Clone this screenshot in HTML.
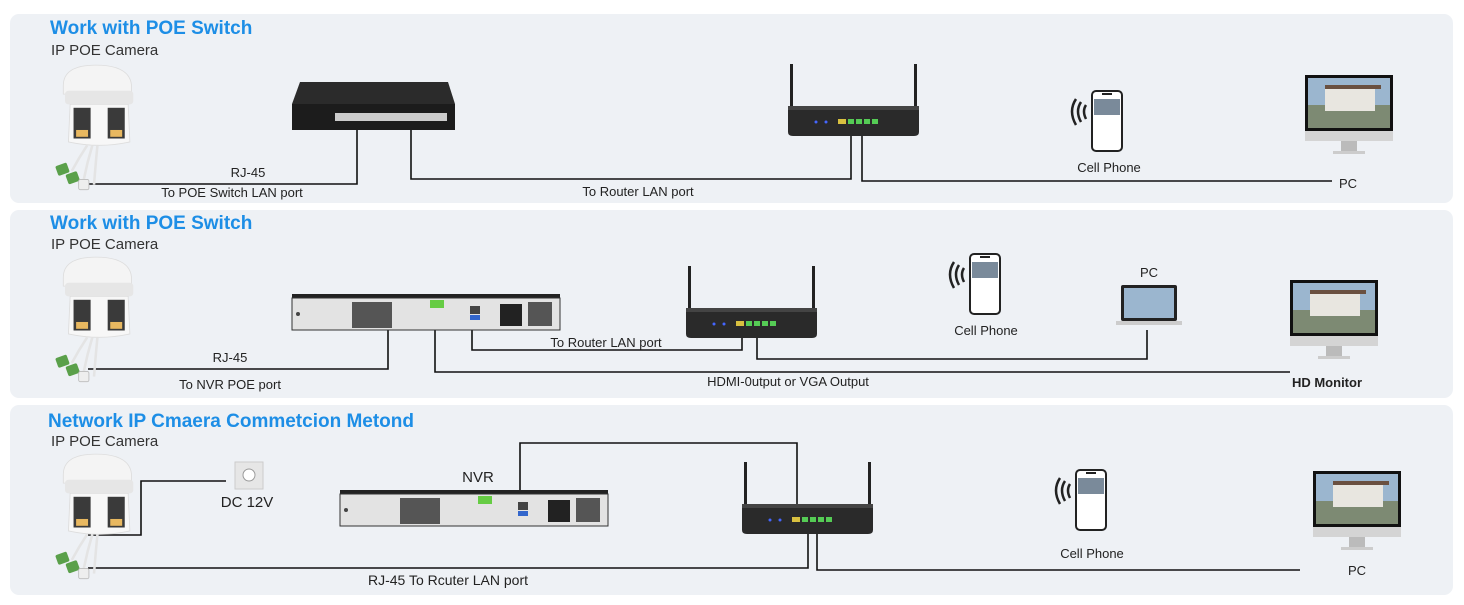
<!DOCTYPE html>
<html><head><meta charset="utf-8"><style>
html,body{margin:0;padding:0;background:#fff;}
body{width:1464px;height:600px;overflow:hidden;font-family:"Liberation Sans",sans-serif;}
svg text{font-family:"Liberation Sans",sans-serif;}
</style></head><body>
<svg width="1464" height="600" viewBox="0 0 1464 600" xmlns="http://www.w3.org/2000/svg">
<defs>
<symbol id="cam" viewBox="0 0 110 150" width="100" height="128" overflow="visible">
  <path d="M12 30 Q12 6 50 6 Q90 6 92 30 L92 40 L12 40Z" fill="#f4f4f4" stroke="#ddd"/>
  <rect x="14" y="36" width="80" height="16" rx="4" fill="#e6e6e6"/>
  <path d="M20 52 L88 52 L90 96 Q55 104 18 96Z" fill="#f7f7f7" stroke="#ddd"/>
  <rect x="24" y="56" width="20" height="36" fill="#3a3a3a"/>
  <rect x="64" y="56" width="20" height="36" fill="#3a3a3a"/>
  <rect x="27" y="82" width="14" height="8" fill="#e8b860"/>
  <rect x="67" y="82" width="14" height="8" fill="#e8b860"/>
  <path d="M40 100 Q30 115 22 130 M46 100 Q40 120 36 140 M52 100 Q50 120 48 146" stroke="#e4e4e4" stroke-width="3" fill="none"/>
  <rect x="4" y="122" width="14" height="12" rx="2" fill="#5aa04a" transform="rotate(-20 11 128)"/>
  <rect x="16" y="132" width="14" height="12" rx="2" fill="#5aa04a" transform="rotate(-20 23 138)"/>
  <rect x="30" y="140" width="12" height="12" rx="2" fill="#eee" stroke="#bbb"/>
</symbol>
<symbol id="router" viewBox="0 0 135 75" width="135" height="75" overflow="visible">
  <rect x="2" y="0" width="3" height="46" fill="#222"/>
  <rect x="126" y="0" width="3" height="46" fill="#222"/>
  <path d="M0 42 L131 42 L131 68 Q131 72 126 72 L5 72 Q0 72 0 68Z" fill="#2a2a2a"/>
  <rect x="0" y="42" width="131" height="4" fill="#444"/>
  <circle cx="28" cy="58" r="1.5" fill="#46f"/><circle cx="38" cy="58" r="1.5" fill="#46f"/>
  <rect x="50" y="55" width="8" height="5" fill="#d8c040"/>
  <rect x="60" y="55" width="6" height="5" fill="#5c5"/><rect x="68" y="55" width="6" height="5" fill="#5c5"/><rect x="76" y="55" width="6" height="5" fill="#5c5"/><rect x="84" y="55" width="6" height="5" fill="#5c5"/>
</symbol>
<symbol id="phone" viewBox="0 0 60 64" width="60" height="64" overflow="visible">
  <path d="M10 10 Q2 22 10 36 M15 13 Q9 22 15 33 M20 16 Q16 22 20 30" stroke="#222" stroke-width="2.5" fill="none"/>
  <rect x="26" y="2" width="30" height="60" rx="4" fill="#fff" stroke="#222" stroke-width="2"/>
  <rect x="28" y="10" width="26" height="16" fill="#7a8a9a"/>
  <rect x="36" y="4" width="10" height="2" fill="#222"/>
</symbol>
<symbol id="mon" viewBox="0 0 88 84" width="88" height="84" overflow="visible">
  <rect x="0" y="0" width="88" height="56" fill="#111"/>
  <rect x="3" y="3" width="82" height="50" fill="#9bb6cf"/>
  <rect x="3" y="30" width="82" height="23" fill="#7d8a73"/>
  <rect x="20" y="12" width="50" height="24" fill="#e8e6e0"/>
  <rect x="20" y="10" width="56" height="4" fill="#6a5040"/>
  <rect x="0" y="56" width="88" height="10" fill="#d4d4d4"/>
  <rect x="36" y="66" width="16" height="10" fill="#bbb"/>
  <rect x="28" y="76" width="32" height="3" fill="#ccc"/>
</symbol>
<symbol id="nvr" viewBox="0 0 268 36" width="268" height="36" overflow="visible">
  <rect x="0" y="0" width="268" height="4" fill="#222"/>
  <rect x="0" y="4" width="268" height="32" fill="#e3e3e3" stroke="#333"/>
  <rect x="60" y="8" width="40" height="26" fill="#555"/>
  <rect x="138" y="6" width="14" height="8" fill="#6c4"/>
  <rect x="178" y="12" width="10" height="8" fill="#444"/><rect x="178" y="21" width="10" height="5" fill="#36c"/>
  <rect x="208" y="10" width="22" height="22" fill="#222"/>
  <rect x="236" y="8" width="24" height="24" fill="#555"/>
  <circle cx="6" cy="20" r="2" fill="#444"/>
</symbol>
</defs>

<rect x="10" y="14" width="1443" height="189" rx="9" fill="#eef1f5"/>
<rect x="10" y="210" width="1443" height="188" rx="9" fill="#eef1f5"/>
<rect x="10" y="405" width="1443" height="190" rx="9" fill="#eef1f5"/>

<g font-weight="bold" font-size="19" fill="#1d8ee6">
<text x="50" y="34">Work with POE Switch</text>
<text x="50" y="229">Work with POE Switch</text>
<text x="48" y="427">Network IP Cmaera Commetcion Metond</text>
</g>
<g font-size="15" fill="#333">
<text x="51" y="55">IP POE Camera</text>
<text x="51" y="249">IP POE Camera</text>
<text x="51" y="446">IP POE Camera</text>
</g>

<g stroke="#111" stroke-width="1.6" fill="none">
<polyline points="88,184 357,184 357,130"/>
<polyline points="411,130 411,179 851,179 851,135"/>
<polyline points="862,135 862,181 1332,181"/>
<polyline points="88,369 388,369 388,329"/>
<polyline points="435,329 435,372 1290,372"/>
<polyline points="472,320 472,350 742,350 742,322"/>
<polyline points="757,325 757,359 1147,359 1147,330"/>
<polyline points="88,535 141,535 141,481 226,481"/>
<polyline points="520,492 520,443 797,443 797,515"/>
<polyline points="88,568 808,568 808,522"/>
<polyline points="817,522 817,570 1300,570"/>
</g>

<use href="#cam" x="50" y="60"/>
<use href="#cam" x="50" y="252"/>
<use href="#cam" x="50" y="449"/>

<path d="M300 82 L448 82 L455 104 L292 104Z" fill="#2b2b2b"/>
<rect x="292" y="104" width="163" height="26" fill="#1c1c1c"/>
<rect x="335" y="113" width="112" height="8" fill="#ccc"/>

<use href="#router" x="788" y="64"/>
<use href="#router" x="686" y="266"/>
<use href="#router" x="742" y="462"/>

<use href="#phone" x="1066" y="89"/>
<use href="#phone" x="944" y="252"/>
<use href="#phone" x="1050" y="468"/>

<use href="#mon" x="1305" y="75"/>
<use href="#mon" x="1290" y="280"/>
<use href="#mon" x="1313" y="471"/>

<use href="#nvr" x="292" y="294"/>
<use href="#nvr" x="340" y="490"/>

<rect x="1121" y="285" width="56" height="36" rx="2" fill="#222"/>
<rect x="1124" y="288" width="50" height="30" fill="#9bb6cf"/>
<rect x="1116" y="321" width="66" height="4" fill="#ccc"/>

<rect x="235" y="462" width="28" height="27" fill="#e6e6e6" stroke="#ccc"/>
<circle cx="249" cy="475" r="6" fill="#fff" stroke="#999"/>

<g font-size="13" fill="#222" text-anchor="middle">
<text x="248" y="177">RJ-45</text>
<text x="232" y="197">To POE Switch LAN port</text>
<text x="638" y="196">To Router LAN port</text>
<text x="1109" y="172">Cell Phone</text>
<text x="1348" y="188">PC</text>
<text x="230" y="362">RJ-45</text>
<text x="230" y="389">To NVR POE port</text>
<text x="606" y="347">To Router LAN port</text>
<text x="788" y="386">HDMI-0utput or VGA Output</text>
<text x="986" y="335">Cell Phone</text>
<text x="1149" y="277">PC</text>
<text x="1327" y="387" font-weight="bold">HD Monitor</text>
<text x="478" y="482" font-size="15">NVR</text>
<text x="247" y="507" font-size="15">DC 12V</text>
<text x="1092" y="558">Cell Phone</text>
<text x="1357" y="575">PC</text>
<text x="448" y="585" font-size="14">RJ-45 To Rcuter LAN port</text>
</g>
</svg>
</body></html>
